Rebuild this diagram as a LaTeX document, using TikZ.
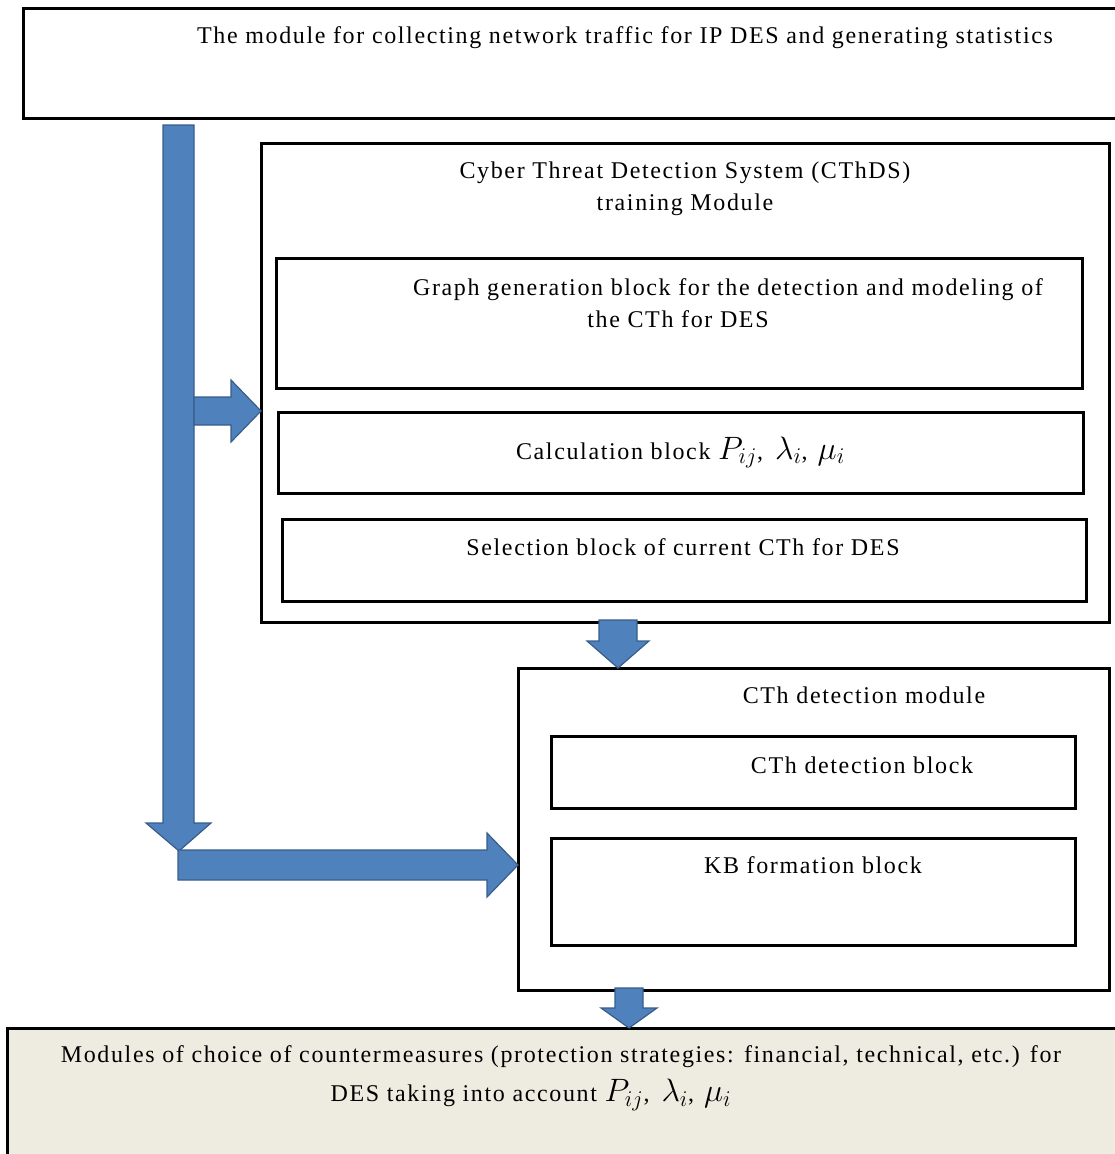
\documentclass[tikz,border=0pt]{standalone}
\usepackage{fontspec}
\setmainfont{Liberation Serif}[LetterSpace=6.8]
\usetikzlibrary{positioning, calc}

\definecolor{arrblue}{HTML}{4F81BD}
\definecolor{arrline}{HTML}{385D8A}
\definecolor{cmfill}{HTML}{EEECE1}

\newcommand{\cthrates}{\scalebox{1.3}{$P_{ij}$},\hspace{12pt}\scalebox{1.3}{$\lambda_i$},\hspace{10pt}\scalebox{1.3}{$\mu_i$}}

\begin{document}
\begin{tikzpicture}[
    x=1pt, y=-1pt,
    font=\fontsize{24}{32}\selectfont,
    box/.style={
        rectangle, draw, line width=3pt,
        anchor=north west, inner sep=0pt, outer sep=0pt
    },
    txt/.style={align=center, inner sep=0pt},
    fatarr/.style={fill=arrblue, draw=arrline, line width=1.2pt, line join=miter},
]
    \useasboundingbox (0,0) rectangle (1115,1154);

    % Modules and blocks
    \node[box, minimum width=1102pt, minimum height=110pt] (traffic) at (23,8) {};
    \node[box, minimum width=848pt, minimum height=479pt]  (cthds)   at (261,143) {};
    \node[box, minimum width=806pt, minimum height=130pt]  (graph)   at (276,258) {};
    \node[box, minimum width=805pt, minimum height=81pt]   (calc)    at (278,412)
        {Calculation block \cthrates};
    \node[box, minimum width=804pt, minimum height=82pt]   (select)  at (282,519) {};
    \node[box, minimum width=591pt, minimum height=322pt]  (detect)  at (518,668) {};
    \node[box, minimum width=524pt, minimum height=72pt]   (detblk)  at (551,736) {};
    \node[box, minimum width=524pt, minimum height=107pt]  (kb)      at (551,838) {};
    \node[box, fill=cmfill, minimum width=1120pt, minimum height=140pt] (counter) at (7,1028) {};

    % Titles
    \node[txt] (trafficT) at (625,38)
        {The module for collecting network traffic for IP DES and generating statistics};
    \node[txt] (cthdsT)   at (685,189)
        {Cyber Threat Detection System (CThDS)\\training Module};
    \node[txt] (graphT)   at (728,303)
        {Graph generation block for the detection and modeling of\\\hspace*{-100pt}the CTh for DES};
    \node[txt] (selectT)  at (683,547) {Selection block of current CTh for DES};
    \node[txt] (detectT)  at (864,695) {CTh detection module};
    \node[txt] (detblkT)  at (862,765) {CTh detection block};
    \node[txt] (kbT)      at (813,865) {KB formation block};
    \node[txt] (counterT) at (561,1078)
        {Modules of choice of countermeasures (protection strategies: financial, technical, etc.) for\\[7pt]
         \hspace*{-60pt}DES taking into account \cthrates};

    % Block arrows
    \coordinate (bend) at (179,851);
    \coordinate (feed) at (178,865);
    \draw[fatarr] (bend) -- ++(-33,-28) -- ++(17,0) -- ++(0,-698)
        -- ++(31,0) -- ++(0,698) -- ++(17,0) -- cycle;
    \draw[fatarr] (detect.west |- feed) -- ++(-31,-32) -- ++(0,17) -- (feed |- 0,850)
        -- (feed |- 0,880) -- ++(309,0) -- ++(0,17) -- cycle;
    \draw[fatarr] (cthds.west |- 0,411) -- ++(-30,-31) -- ++(0,17) -- ++(-37,0)
        -- ++(0,28) -- ++(37,0) -- ++(0,17) -- cycle;
    \draw[fatarr] (detect.north -| 618,0) -- ++(-31,-27) -- ++(12,0) -- ++(0,-21)
        -- ++(38,0) -- ++(0,21) -- ++(12,0) -- cycle;
    \draw[fatarr] (counter.north -| 629,0) -- ++(-28,-20) -- ++(14,0) -- ++(0,-20)
        -- ++(28,0) -- ++(0,20) -- ++(14,0) -- cycle;

\end{tikzpicture}
\end{document}
